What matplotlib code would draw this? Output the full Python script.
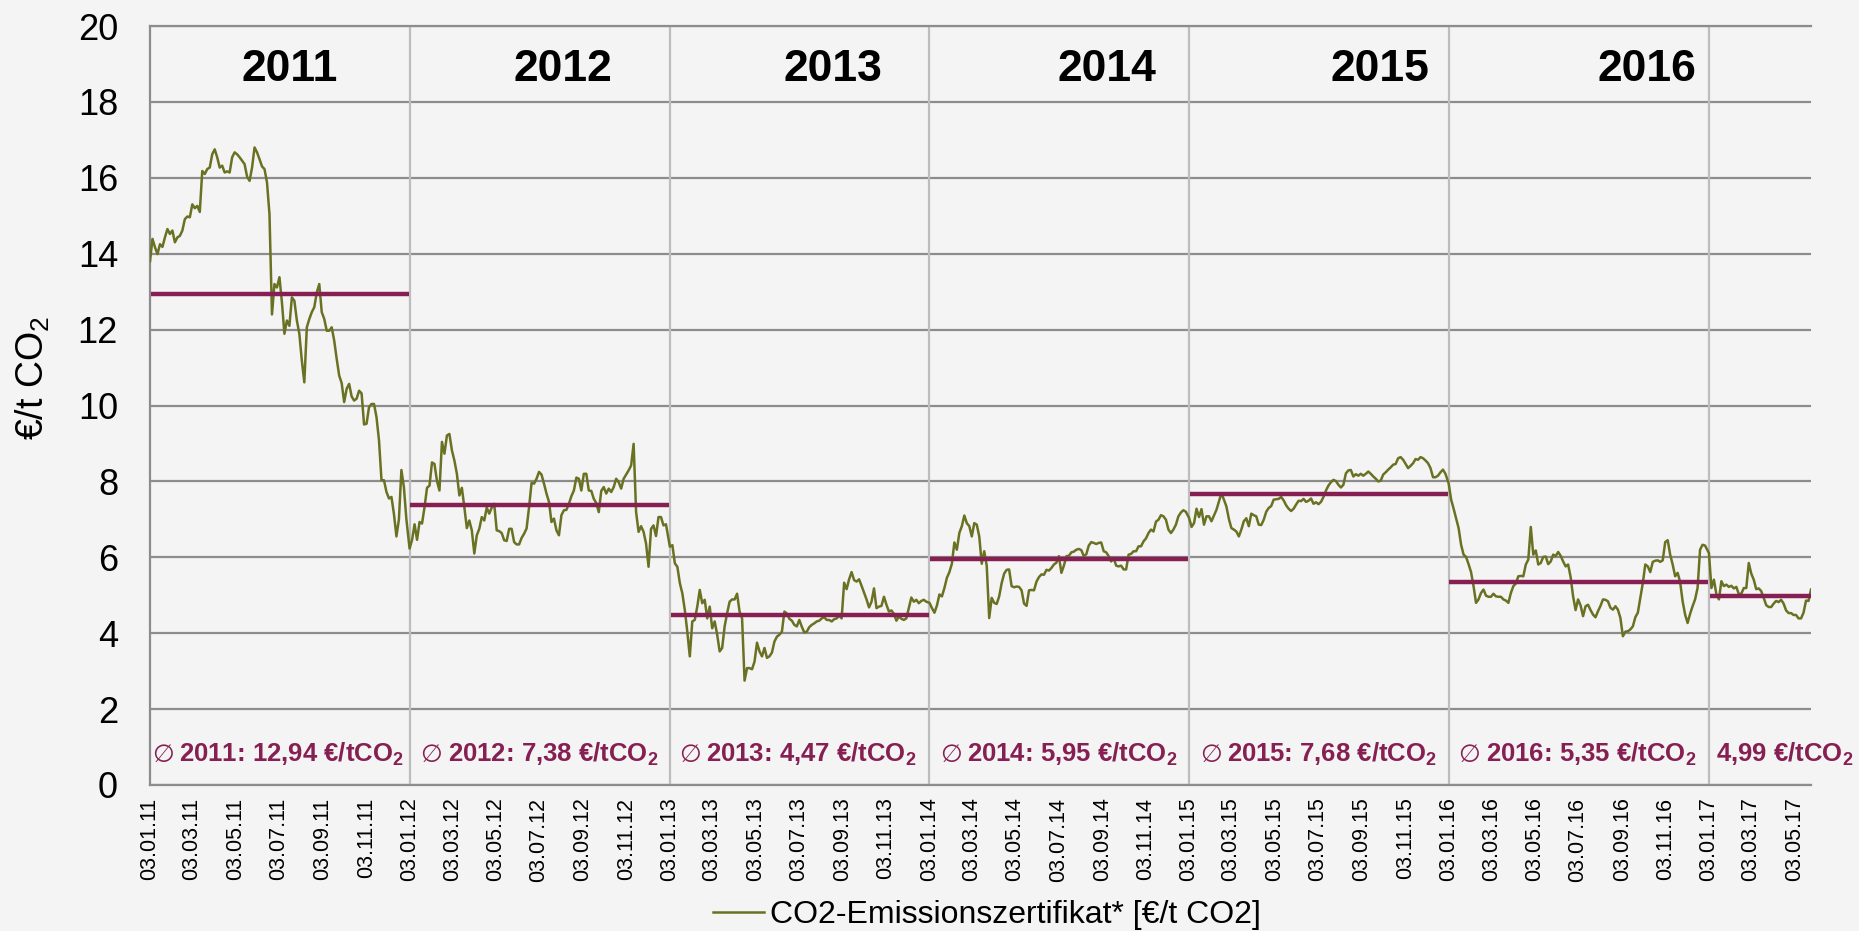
import matplotlib
matplotlib.use("Agg")
import matplotlib.pyplot as plt
import matplotlib.dates as mdates
import pandas as pd

plt.rcParams["font.family"] = ["Liberation Sans", "DejaVu Sans"]
plt.rcParams["mathtext.fontset"] = "custom"
plt.rcParams["mathtext.rm"] = "Liberation Sans"
plt.rcParams["mathtext.it"] = "Liberation Sans:italic"
plt.rcParams["mathtext.bf"] = "Liberation Sans:bold"

# EUA prices in EUR per t CO2, sampled every 3.5 days; each list starts on 3 January
price_2011 = [13.80, 14.39, 14.17, 13.99, 14.25, 14.18, 14.43, 14.65, 14.52, 14.61,
              14.30, 14.43, 14.47, 14.61, 14.91, 14.98, 14.96, 15.30, 15.20, 15.26,
              15.10, 16.18, 16.10, 16.23, 16.27, 16.62, 16.75, 16.54, 16.27, 16.32,
              16.14, 16.17, 16.14, 16.54, 16.67, 16.62, 16.54, 16.45, 16.36, 16.03,
              15.92, 16.27, 16.80, 16.67, 16.49, 16.30, 16.23, 15.88, 15.04, 12.40,
              13.20, 13.11, 13.38, 12.72, 11.89, 12.24, 12.10, 12.85, 12.76, 12.24,
              11.89, 11.18, 10.61, 12.06, 12.28, 12.46, 12.59, 12.98, 13.20, 12.46,
              12.28, 11.97, 11.97, 12.06, 11.71, 11.23, 10.79, 10.59, 10.09, 10.44,
              10.57, 10.24, 10.13, 10.18, 10.39, 10.32, 9.50, 9.52, 9.96, 10.04,
              10.04, 9.69, 9.08, 8.03, 8.03, 7.72, 7.55, 7.59, 7.14, 6.55,
              7.00, 8.30, 7.85, 7.00]
price_2012 = [6.23, 6.46, 6.87, 6.46, 6.93, 6.89, 7.32, 7.83, 7.89, 8.50,
              8.46, 8.01, 7.76, 9.04, 8.73, 9.21, 9.25, 8.82, 8.55, 8.20,
              7.63, 7.83, 7.32, 6.77, 6.97, 6.71, 6.10, 6.58, 6.75, 7.06,
              6.97, 7.31, 7.15, 7.31, 7.41, 6.71, 6.69, 6.64, 6.45, 6.43,
              6.75, 6.75, 6.40, 6.34, 6.34, 6.51, 6.62, 6.76, 7.32, 7.96,
              7.94, 8.07, 8.25, 8.18, 7.94, 7.68, 7.46, 6.93, 7.02, 6.71,
              6.58, 7.11, 7.24, 7.25, 7.41, 7.61, 7.76, 8.10, 8.07, 7.76,
              8.20, 8.20, 7.76, 7.75, 7.54, 7.43, 7.19, 7.75, 7.85, 7.68,
              7.81, 7.72, 7.85, 8.07, 7.98, 7.81, 8.07, 8.18, 8.29, 8.42,
              8.99, 7.19, 6.67, 6.82, 6.67, 6.36, 5.75, 6.75, 6.84, 6.56,
              7.06, 7.06, 6.84, 6.87]
price_2013 = [6.28, 6.32, 5.84, 5.75, 5.32, 5.05, 4.61, 4.04, 3.39, 4.31,
              4.35, 4.70, 5.14, 4.79, 4.88, 4.39, 4.70, 4.13, 4.31, 3.96,
              3.52, 3.61, 4.18, 4.53, 4.83, 4.89, 4.89, 5.04, 4.57, 4.39,
              2.75, 3.08, 3.08, 3.05, 3.25, 3.75, 3.52, 3.39, 3.61, 3.35,
              3.39, 3.49, 3.78, 3.91, 3.96, 4.04, 4.57, 4.52, 4.38, 4.33,
              4.22, 4.18, 4.35, 4.17, 4.02, 4.04, 4.16, 4.22, 4.26, 4.31,
              4.33, 4.39, 4.42, 4.35, 4.35, 4.31, 4.37, 4.39, 4.46, 4.39,
              5.33, 5.16, 5.42, 5.61, 5.40, 5.36, 5.42, 5.25, 5.07, 4.89,
              4.68, 4.83, 5.18, 4.66, 4.70, 4.72, 4.96, 4.75, 4.57, 4.60,
              4.51, 4.33, 4.44, 4.38, 4.35, 4.39, 4.66, 4.94, 4.83, 4.88,
              4.79, 4.85, 4.88, 4.83]
price_2014 = [4.80, 4.66, 4.54, 4.73, 5.02, 4.97, 5.19, 5.46, 5.61, 5.83,
              6.39, 6.20, 6.64, 6.82, 7.10, 6.90, 6.82, 6.55, 6.90, 6.86,
              6.55, 5.83, 6.16, 5.78, 4.40, 4.93, 4.80, 4.77, 4.97, 5.32,
              5.57, 5.67, 5.68, 5.24, 5.21, 5.23, 5.22, 5.13, 4.78, 4.72,
              5.13, 5.14, 5.13, 5.36, 5.48, 5.55, 5.54, 5.67, 5.65, 5.72,
              5.81, 5.86, 6.03, 5.59, 5.78, 6.03, 6.04, 6.13, 6.15, 6.20,
              6.22, 6.19, 6.03, 6.08, 6.31, 6.40, 6.38, 6.35, 6.38, 6.39,
              6.16, 6.13, 6.03, 5.89, 5.98, 5.78, 5.76, 5.78, 5.68, 5.68,
              6.07, 6.09, 6.16, 6.16, 6.29, 6.29, 6.42, 6.50, 6.64, 6.73,
              6.68, 6.94, 6.99, 7.11, 7.08, 6.99, 6.73, 6.64, 6.73, 6.86,
              7.08, 7.18, 7.24, 7.20]
price_2015 = [7.04, 6.80, 6.90, 7.28, 7.06, 7.27, 6.86, 7.08, 7.08, 6.95,
              7.10, 7.25, 7.47, 7.69, 7.52, 7.34, 7.01, 6.77, 6.73, 6.68,
              6.55, 6.73, 6.95, 7.03, 6.82, 7.15, 7.11, 7.08, 6.86, 6.85,
              6.99, 7.20, 7.30, 7.35, 7.52, 7.53, 7.54, 7.59, 7.50, 7.37,
              7.28, 7.22, 7.28, 7.39, 7.49, 7.48, 7.54, 7.46, 7.49, 7.55,
              7.41, 7.45, 7.40, 7.46, 7.59, 7.76, 7.89, 7.98, 8.04, 8.01,
              7.91, 7.84, 7.91, 8.21, 8.29, 8.30, 8.13, 8.19, 8.15, 8.20,
              8.15, 8.20, 8.26, 8.20, 8.13, 8.07, 8.00, 8.02, 8.18, 8.24,
              8.31, 8.37, 8.44, 8.46, 8.61, 8.64, 8.57, 8.46, 8.35, 8.41,
              8.48, 8.59, 8.57, 8.64, 8.61, 8.55, 8.48, 8.35, 8.11, 8.11,
              8.15, 8.24, 8.31, 8.20]
price_2016 = [7.95, 7.52, 7.28, 7.02, 6.77, 6.33, 6.07, 6.01, 5.82, 5.61,
              5.24, 4.80, 4.89, 5.06, 5.15, 4.99, 4.96, 4.96, 5.04, 4.97,
              4.96, 4.96, 4.89, 4.86, 4.80, 5.06, 5.24, 5.31, 5.50, 5.51,
              5.50, 5.81, 5.94, 6.80, 6.07, 6.18, 5.81, 5.85, 6.01, 6.02,
              5.82, 5.89, 6.07, 6.03, 6.14, 6.04, 5.89, 5.76, 5.81, 5.48,
              4.97, 4.61, 4.89, 4.73, 4.45, 4.71, 4.75, 4.61, 4.49, 4.42,
              4.58, 4.72, 4.89, 4.88, 4.84, 4.67, 4.62, 4.71, 4.62, 4.40,
              3.92, 4.04, 4.05, 4.10, 4.18, 4.42, 4.54, 4.93, 5.32, 5.81,
              5.76, 5.61, 5.88, 5.91, 5.92, 5.88, 5.92, 6.40, 6.45, 6.07,
              5.81, 5.50, 5.59, 5.35, 4.84, 4.49, 4.27, 4.51, 4.71, 4.89,
              5.19, 6.20, 6.33, 6.31]
price_2017 = [6.11, 5.19, 5.41, 5.02, 4.89, 5.37, 5.24, 5.28, 5.22, 5.25,
              5.18, 5.22, 5.03, 5.04, 5.19, 5.19, 5.85, 5.57, 5.41, 5.16,
              5.18, 5.11, 4.93, 4.74, 4.69, 4.69, 4.78, 4.85, 4.82, 4.88,
              4.78, 4.60, 4.53, 4.53, 4.48, 4.48, 4.39, 4.39, 4.54, 4.86,
              4.85, 5.15]

years = [2011, 2012, 2013, 2014, 2015, 2016, 2017]
yearly_prices = [price_2011, price_2012, price_2013, price_2014,
                 price_2015, price_2016, price_2017]
annual_avg = [12.94, 7.38, 4.47, 5.95, 7.68, 5.35, 4.99]
complete_year = [True, True, True, True, True, True, False]
series_label = "CO2-Emissionszertifikat* [€/t CO2]"

# layout helpers (days after 3 January)
year_title_offset = [197, 215, 229, 249, 268, 279]
avg_text_offset = [3, 15, 13, 15, 15, 14, 10]

OLIVE = "#6a7122"
PURPLE = "#861f52"
BG = "#f4f4f4"
GRID_DARK = "#8c8c8c"
GRID_LIGHT = "#bdbdbd"

dates = []
values = []
for yr, vals in zip(years, yearly_prices):
    d = pd.date_range(f"{yr}-01-03", periods=len(vals), freq="84h")
    dates.extend(d)
    values.extend(vals)
series = pd.Series(values, index=pd.DatetimeIndex(dates))
x_start = pd.Timestamp("2011-01-03")
x_end = series.index[-1]

fig = plt.figure(figsize=(18.59, 9.31), dpi=100, facecolor=BG)
ax = fig.add_axes([150 / 1859, 146 / 931, 1661 / 1859, 759 / 931])
ax.set_facecolor(BG)

ax.set_xlim(x_start, x_end)
ax.set_ylim(0, 20)
ax.set_yticks(range(0, 21, 2))
ax.yaxis.grid(True, color=GRID_DARK, lw=1.6, zorder=0)
ax.set_axisbelow(True)

for side in ["top", "left", "bottom"]:
    ax.spines[side].set_color(GRID_DARK)
    ax.spines[side].set_linewidth(1.6)
ax.spines["right"].set_visible(False)

for yr in years[1:]:
    ax.axvline(pd.Timestamp(f"{yr}-01-03"), color=GRID_LIGHT, lw=1.6, zorder=1)

ax.plot(series.index, series.values, color=OLIVE, lw=1.8, zorder=3,
        label=series_label)

for i, (yr, avg) in enumerate(zip(years, annual_avg)):
    a = pd.Timestamp(f"{yr}-01-03") + pd.Timedelta(days=1)
    b = pd.Timestamp(f"{yr + 1}-01-03") - pd.Timedelta(days=1) if yr < years[-1] else x_end
    ax.hlines(avg, a, b, color=PURPLE, lw=3.2, zorder=4)

    x0 = pd.Timestamp(f"{yr}-01-03") + pd.Timedelta(days=avg_text_offset[i])
    value_txt = f"{avg:.2f}".replace(".", ",")
    if complete_year[i]:
        sym = ax.text(x0, 0.6, "∅", family="DejaVu Sans", fontsize=18,
                      color=PURPLE, ha="left", va="baseline")
        ax.annotate(f"{yr}: {value_txt} €/tCO$_\\mathbf{{2}}$",
                    xy=(1, 0.6), xycoords=(sym, "data"),
                    xytext=(4, 0), textcoords="offset points",
                    fontsize=18.5, fontweight="bold", color=PURPLE,
                    ha="left", va="baseline", annotation_clip=False)
    else:
        ax.text(x0, 0.6, f"{value_txt} €/tCO$_\\mathbf{{2}}$", fontsize=18.5,
                fontweight="bold", color=PURPLE, ha="left", va="baseline",
                clip_on=False)

for yr, off in zip(years[:-1], year_title_offset):
    ax.text(pd.Timestamp(f"{yr}-01-03") + pd.Timedelta(days=off), 18.85, str(yr),
            fontsize=32, fontweight="bold", ha="center", va="center", color="black")

ax.xaxis.set_major_locator(mdates.MonthLocator(bymonth=[1, 3, 5, 7, 9, 11], bymonthday=3))
ax.xaxis.set_major_formatter(mdates.DateFormatter("%d.%m.%y"))
ax.tick_params(axis="x", length=0, pad=9, labelsize=15.5, labelrotation=90)
ax.tick_params(axis="y", length=0, pad=23, labelsize=26)

ax.set_ylabel("€/t CO$_2$", fontsize=27)
ax.yaxis.set_label_coords(-0.059, 0.536)

fig.legend(loc="center", bbox_to_anchor=(0.531, 16 / 931), frameon=False,
           fontsize=23, handlelength=1.6, handletextpad=0.2)

fig.savefig("out.png", dpi=100, facecolor=BG)
